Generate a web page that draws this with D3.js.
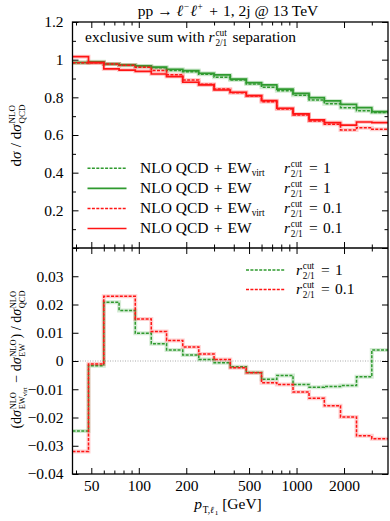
<!DOCTYPE html>
<html><head><meta charset="utf-8">
<script src="https://cdn.jsdelivr.net/npm/d3@7"></script>
<style>
body{margin:0;background:#fff;}
svg text{font-family:"Liberation Serif","DejaVu Serif",serif;fill:#000;white-space:pre;}
</style></head>
<body><svg id="c" width="390" height="521"></svg>
<script>
// ---- data ----
const binEdges = [38,48,60,75,95,120,150,190,240,300,380,480,600,750,950,1200,1500,1900,2400,3000,3800];
const qcdEwVirtR1  = [0.984,0.986,0.977,0.970,0.964,0.957,0.942,0.936,0.922,0.907,0.892,0.871,0.853,0.835,0.811,0.786,0.766,0.745,0.729,0.719];
const qcdEwR1      = [0.985,0.989,0.977,0.972,0.967,0.960,0.949,0.942,0.928,0.919,0.897,0.878,0.866,0.844,0.821,0.798,0.781,0.763,0.745,0.724];
const qcdEwVirtR01 = [0.984,0.984,0.977,0.970,0.960,0.942,0.920,0.892,0.869,0.844,0.825,0.807,0.777,0.738,0.706,0.674,0.657,0.627,0.639,0.630];
const qcdEwR01     = [1.016,0.984,0.951,0.945,0.938,0.924,0.910,0.880,0.866,0.839,0.827,0.809,0.782,0.742,0.712,0.680,0.666,0.652,0.669,0.666];
const diffR1  = [-0.0248,-0.0017,0.0208,0.0179,0.0098,0.0061,0.0039,0.0021,0.0005,-0.0006,-0.0020,-0.0041,-0.0065,-0.0051,-0.0083,-0.0093,-0.0090,-0.0087,-0.0056,0.0039];
const diffR01 = [-0.0320,-0.0011,0.0229,0.0229,0.0149,0.0104,0.0073,0.0050,0.0025,0.0005,-0.0024,-0.0042,-0.0077,-0.0083,-0.0110,-0.0132,-0.0158,-0.0198,-0.0265,-0.0275];
const xMajorTicks = [50,100,200,500,1000,2000];
const xMinorTicks = [40,60,70,80,90,300,400,600,700,800,900,3000];
const yUpperMajor = [0,0.2,0.4,0.6,0.8,1.0,1.2];
const yUpperMinor = [0.1,0.3,0.5,0.7,0.9,1.1];
const yLowerMajor = [-0.04,-0.03,-0.02,-0.01,0,0.01,0.02,0.03,0.04];

// ---- layout ----
const L=72.5,R=388,T=22,M=248,B=474;
const GREEN="#2f9a2f", RED="#ff1414";
const FS=15.5;
const SP="\u2004";
const SC=0.6;
const svg=d3.select("#c");

const x=d3.scaleLog().domain([38,3800]).range([L,R]);
const yU=d3.scaleLinear().domain([0,1.2]).range([M,T]);
const yD=d3.scaleLinear().domain([-0.04,0.04]).range([B,M]);

const defs=svg.append("defs");
defs.append("clipPath").attr("id","cu").append("rect").attr("x",L).attr("y",T).attr("width",R-L).attr("height",M-T);
defs.append("clipPath").attr("id","cd").append("rect").attr("x",L).attr("y",M).attr("width",R-L).attr("height",B-M);

// rich text helper
function rich(parent, parts, fs){
  const g=parent.append("g");
  let cx=0;
  for(const p of parts){
    if(p.t!==undefined){
      const s=(p.s||1)*fs;
      const e=g.append("text").attr("x",cx).attr("y",(p.dy||0)*fs).style("font-size",s+"px")
        .style("font-style",p.it?"italic":"normal").text(p.t);
      cx+=e.node().getComputedTextLength()+(p.it?fs*0.05:0);
    } else {
      let w=0;
      if(p.sup){
        const e=g.append("text").attr("x",cx).attr("y",-0.38*fs).style("font-size",SC*fs+"px").text(p.sup);
        w=Math.max(w,e.node().getComputedTextLength());
      }
      if(p.sub){
        const e=g.append("text").attr("x",cx).attr("y",0.27*fs).style("font-size",SC*fs+"px").text(p.sub);
        let ww=e.node().getComputedTextLength();
        if(p.subsub){
          const e2=g.append("text").attr("x",cx+ww).attr("y",0.4*fs).style("font-size",0.46*fs+"px").text(p.subsub);
          ww+=e2.node().getComputedTextLength();
        }
        w=Math.max(w,ww);
      }
      cx+=w+fs*0.08;
    }
  }
  return {g,w:cx};
}
function place(parent, parts, fs, xx, yy, anchor){
  const r=rich(parent,parts,fs);
  const off = anchor==="middle"? -r.w/2 : anchor==="end"? -r.w : 0;
  r.g.attr("transform",`translate(${xx+off},${yy})`);
  return r;
}
function placeRot(parent, parts, fs, xx, yc){
  const r=rich(parent,parts,fs);
  r.g.attr("transform",`translate(${xx},${yc}) rotate(-90) translate(${-r.w/2},0)`);
  return r;
}

// ---- step lines ----
function stepPts(vals){ const p=vals.map((v,i)=>[binEdges[i],v]); p.push([binEdges[binEdges.length-1],vals[vals.length-1]]); return p; }
function drawStep(g, ys, vals, color, dashed, w){
  const line=d3.line().x(d=>x(d[0])).y(d=>ys(d[1])).curve(d3.curveStepAfter);
  g.append("path").attr("d",line(stepPts(vals))).attr("fill","none").attr("stroke",color)
   .attr("stroke-opacity",0.2).attr("stroke-width",4);
  g.append("path").attr("d",line(stepPts(vals))).attr("fill","none").attr("stroke",color)
   .attr("stroke-width",w).attr("stroke-dasharray",dashed?"3,1.4":null);
}

const gu=svg.append("g").attr("clip-path","url(#cu)");
drawStep(gu,yU,qcdEwVirtR1,GREEN,true,1.5);
drawStep(gu,yU,qcdEwR1,GREEN,false,1.7);
drawStep(gu,yU,qcdEwVirtR01,RED,true,1.5);
drawStep(gu,yU,qcdEwR01,RED,false,1.7);

const gd=svg.append("g").attr("clip-path","url(#cd)");
gd.append("line").attr("x1",L).attr("x2",R).attr("y1",yD(0)).attr("y2",yD(0))
  .attr("stroke","#aaa").attr("stroke-width",1).attr("stroke-dasharray","1,1.5");
drawStep(gd,yD,diffR1,GREEN,true,1.5);
drawStep(gd,yD,diffR01,RED,true,1.5);

// ---- axes ----
const fmtU=v=>v===1?"1":d3.format(".1f")(v);
const fmtD=v=>v===0?"0":d3.format(".2f")(v);
function axes(){
  const xs=[[T,d3.axisTop,false],[M,d3.axisBottom,false],[M,d3.axisTop,false],[B,d3.axisBottom,true]];
  for(const [yy,fn,lab] of xs){
    const a=fn(x).tickValues(xMajorTicks).tickSizeInner(-6).tickSizeOuter(0).tickPadding(5.5)
      .tickFormat(lab?d3.format("d"):"");
    svg.append("g").attr("transform",`translate(0,${yy})`).call(a);
    const a2=fn(x).tickValues(xMinorTicks).tickSizeInner(-3.5).tickSizeOuter(0).tickFormat("");
    svg.append("g").attr("transform",`translate(0,${yy})`).call(a2);
  }
  svg.append("g").attr("transform",`translate(${L},0)`).call(d3.axisLeft(yU).tickValues(yUpperMajor).tickSizeInner(-6).tickSizeOuter(0).tickPadding(9).tickFormat(v=>v===0?"":fmtU(v)));
  svg.append("g").attr("transform",`translate(${L},0)`).call(d3.axisLeft(yU).tickValues(yUpperMinor).tickSizeInner(-3.5).tickSizeOuter(0).tickFormat(""));
  svg.append("g").attr("transform",`translate(${R},0)`).call(d3.axisRight(yU).tickValues(yUpperMajor).tickSizeInner(-6).tickSizeOuter(0).tickFormat(""));
  svg.append("g").attr("transform",`translate(${R},0)`).call(d3.axisRight(yU).tickValues(yUpperMinor).tickSizeInner(-3.5).tickSizeOuter(0).tickFormat(""));
  svg.append("g").attr("transform",`translate(${L},0)`).call(d3.axisLeft(yD).tickValues(yLowerMajor).tickSizeInner(-6).tickSizeOuter(0).tickPadding(9).tickFormat(v=>Math.abs(v-0.04)<1e-9?"":fmtD(v)));
  svg.append("g").attr("transform",`translate(${R},0)`).call(d3.axisRight(yD).tickValues(yLowerMajor).tickSizeInner(-6).tickSizeOuter(0).tickFormat(""));
}
axes();
svg.selectAll(".domain").remove();
svg.selectAll(".tick line").attr("stroke","#000").attr("stroke-width",1);
svg.selectAll(".tick text").style("font-size",FS+"px").attr("font-family",null);

// frame
svg.append("rect").attr("x",L).attr("y",T).attr("width",R-L).attr("height",B-T).attr("fill","none").attr("stroke","#000").attr("stroke-width",1.3);
svg.append("line").attr("x1",L).attr("x2",R).attr("y1",M).attr("y2",M).attr("stroke","#000").attr("stroke-width",1.3);

// ---- texts ----
const rcut=[{t:"r",it:true},{sup:"cut",sub:"2/1"}];
place(svg,[{t:"pp → "},{t:"ℓ",it:true},{sup:"−"},{t:"ℓ",it:true},{sup:"+"},{t:SP+"+"+SP+"1, 2j @ 13 TeV"}],FS,228,15.5,"middle");
place(svg,[{t:"exclusive sum with "},...rcut,{t:" separation"}],FS,85,41.5,"start");

// legend upper
const legU=[
  {c:GREEN,d:true,txt:[{t:"NLO QCD"+SP+"+"+SP+"EW"},{t:"virt",s:SC,dy:0.2}],r:SP+"="+SP+"1"},
  {c:GREEN,d:false,txt:[{t:"NLO QCD"+SP+"+"+SP+"EW"}],r:SP+"="+SP+"1"},
  {c:RED,d:true,txt:[{t:"NLO QCD"+SP+"+"+SP+"EW"},{t:"virt",s:SC,dy:0.2}],r:SP+"="+SP+"0.1"},
  {c:RED,d:false,txt:[{t:"NLO QCD"+SP+"+"+SP+"EW"}],r:SP+"="+SP+"0.1"}
];
const legY=[168.3,188.3,208.5,228.5];
legU.forEach((e,i)=>{
  const yy=legY[i];
  svg.append("line").attr("x1",87.5).attr("x2",126.5).attr("y1",yy).attr("y2",yy)
    .attr("stroke",e.c).attr("stroke-width",e.d?1.5:1.7).attr("stroke-dasharray",e.d?"3,1.4":null);
  place(svg,e.txt,FS,140,yy+4.5,"start");
  place(svg,[...rcut,{t:e.r}],FS,284,yy+4.5,"start");
});
// legend lower
const legD=[{c:GREEN,r:SP+"="+SP+"1",y:270},{c:RED,r:SP+"="+SP+"0.1",y:289.5}];
legD.forEach(e=>{
  svg.append("line").attr("x1",246).attr("x2",285).attr("y1",e.y).attr("y2",e.y)
    .attr("stroke",e.c).attr("stroke-width",1.5).attr("stroke-dasharray","3,1.4");
  place(svg,[...rcut,{t:e.r}],FS,296,e.y+4.5,"start");
});

// axis labels
place(svg,[{t:"p",it:true},{t:"T,",s:SC,dy:0.25},{t:"ℓ",s:SC,dy:0.25,it:true},{t:"1",s:0.46,dy:0.38},{t:" [GeV]"}],FS,228,509,"middle");
placeRot(svg,[{t:"d"},{t:"σ",it:true},{t:" / d"},{t:"σ",it:true},{sup:"NLO",sub:"QCD"}],15,21,135);
placeRot(svg,[{t:"(d",s:1},{t:"σ",it:true},{sup:"NLO",sub:"EW",subsub:"virt"},{t:" − d"},{t:"σ",it:true},{sup:"NLO",sub:"EW"},{t:") / d"},{t:"σ",it:true},{sup:"NLO",sub:"QCD"}],14,21,359);
</script></body></html>
